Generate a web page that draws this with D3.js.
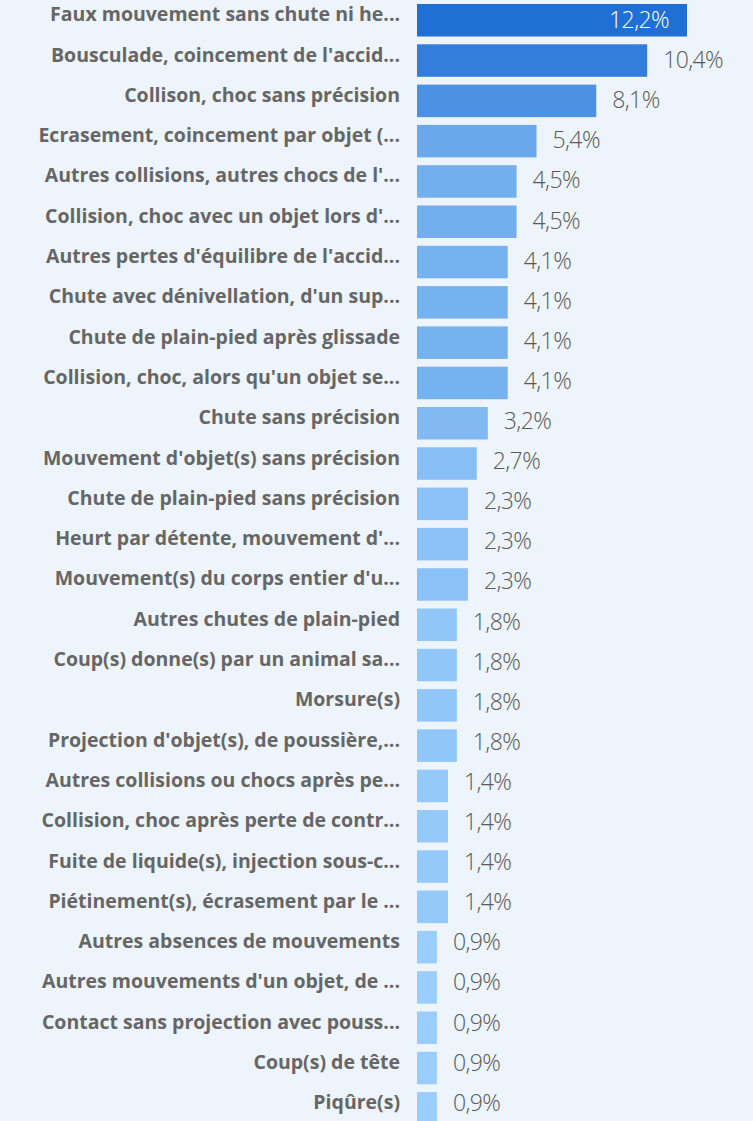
<!DOCTYPE html>
<html>
<head>
<meta charset="utf-8">
<script src="https://cdn.jsdelivr.net/npm/d3@7"></script>
<style>
  html, body { margin: 0; padding: 0; background: #edf4fb; overflow: hidden; }
  svg { display: block; }
</style>
</head>
<body>
<div id="chart"></div>
<script>
// Types of accident movement (deviation), share of accidents
const categories = [
  "Faux mouvement sans chute ni he...",
  "Bousculade, coincement de l'accid...",
  "Collison, choc sans précision",
  "Ecrasement, coincement par objet (...",
  "Autres collisions, autres chocs de l'...",
  "Collision, choc avec un objet lors d'...",
  "Autres pertes d'équilibre de l'accid...",
  "Chute avec dénivellation, d'un sup...",
  "Chute de plain-pied après glissade",
  "Collision, choc, alors qu'un objet se...",
  "Chute sans précision",
  "Mouvement d'objet(s) sans précision",
  "Chute de plain-pied sans précision",
  "Heurt par détente, mouvement d'...",
  "Mouvement(s) du corps entier d'u...",
  "Autres chutes de plain-pied",
  "Coup(s) donne(s) par un animal sa...",
  "Morsure(s)",
  "Projection d'objet(s), de poussière,...",
  "Autres collisions ou chocs après pe...",
  "Collision, choc après perte de contr...",
  "Fuite de liquide(s), injection sous-c...",
  "Piétinement(s), écrasement par le ...",
  "Autres absences de mouvements",
  "Autres mouvements d'un objet, de ...",
  "Contact sans projection avec pouss...",
  "Coup(s) de tête",
  "Piqûre(s)"
];

const values = [
  12.2, 10.4, 8.1, 5.4, 4.5, 4.5, 4.1, 4.1, 4.1, 4.1,
  3.2, 2.7, 2.3, 2.3, 2.3, 1.8, 1.8, 1.8, 1.8, 1.4,
  1.4, 1.4, 1.4, 0.9, 0.9, 0.9, 0.9, 0.9
];

const data = categories.map((c, i) => ({ name: c, value: values[i] }));

const width = 753, height = 1121;
const barLeft = 417;

const svg = d3.select("#chart").append("svg")
  .attr("width", width)
  .attr("height", height);

svg.append("rect")
  .attr("width", width).attr("height", height)
  .attr("fill", "#edf4fb");

const x = d3.scaleLinear()
  .domain([0, 12.2])
  .range([barLeft, 687]);

const y = d3.scaleBand()
  .domain(categories)
  .range([4, 1124.6])
  .paddingInner(0.1935)
  .paddingOuter(0);

// slightly tighter row pitch for the value labels so the last one stays in view
const yLabel = d3.scaleBand()
  .domain(categories)
  .range([4, 4 + categories.length * 40.1]);

const color = d3.scaleLinear()
  .domain([d3.min(values), d3.max(values)])
  .range(["#9acdfb", "#1f6fd4"]);

const fmt = v => d3.format(".1f")(v).replace(".", ",") + "%";

// bars
svg.append("g").selectAll("rect")
  .data(data)
  .join("rect")
  .attr("x", x(0))
  .attr("y", d => y(d.name))
  .attr("width", d => x(d.value) - x(0))
  .attr("height", y.bandwidth())
  .attr("fill", d => color(d.value));

// category labels
svg.append("g").selectAll("text")
  .data(data)
  .join("text")
  .attr("x", 400)
  .attr("y", d => y(d.name) + y.bandwidth() / 2 + 1)
  .attr("text-anchor", "end")
  .attr("font-family", "'Open Sans', 'Segoe UI', sans-serif")
  .attr("font-weight", 700)
  .attr("font-size", 19.5)
  .attr("fill", "#666666")
  .text(d => d.name);

// value labels: inside the longest bar, outside the others
const maxV = d3.max(values);
svg.append("g").selectAll("text")
  .data(data)
  .join("text")
  .attr("x", d => d.value === maxV ? x(d.value) - 18 : x(d.value) + 16)
  .attr("y", d => yLabel(d.name) + 24)
  .attr("text-anchor", d => d.value === maxV ? "end" : "start")
  .attr("font-family", "'Open Sans', 'Segoe UI', sans-serif")
  .attr("font-weight", 300)
  .attr("font-size", 23)
  .attr("letter-spacing", -0.6)
  .attr("fill", d => d.value === maxV ? "#ffffff" : "#5a5856")
  .text(d => fmt(d.value));
</script>
</body>
</html>
